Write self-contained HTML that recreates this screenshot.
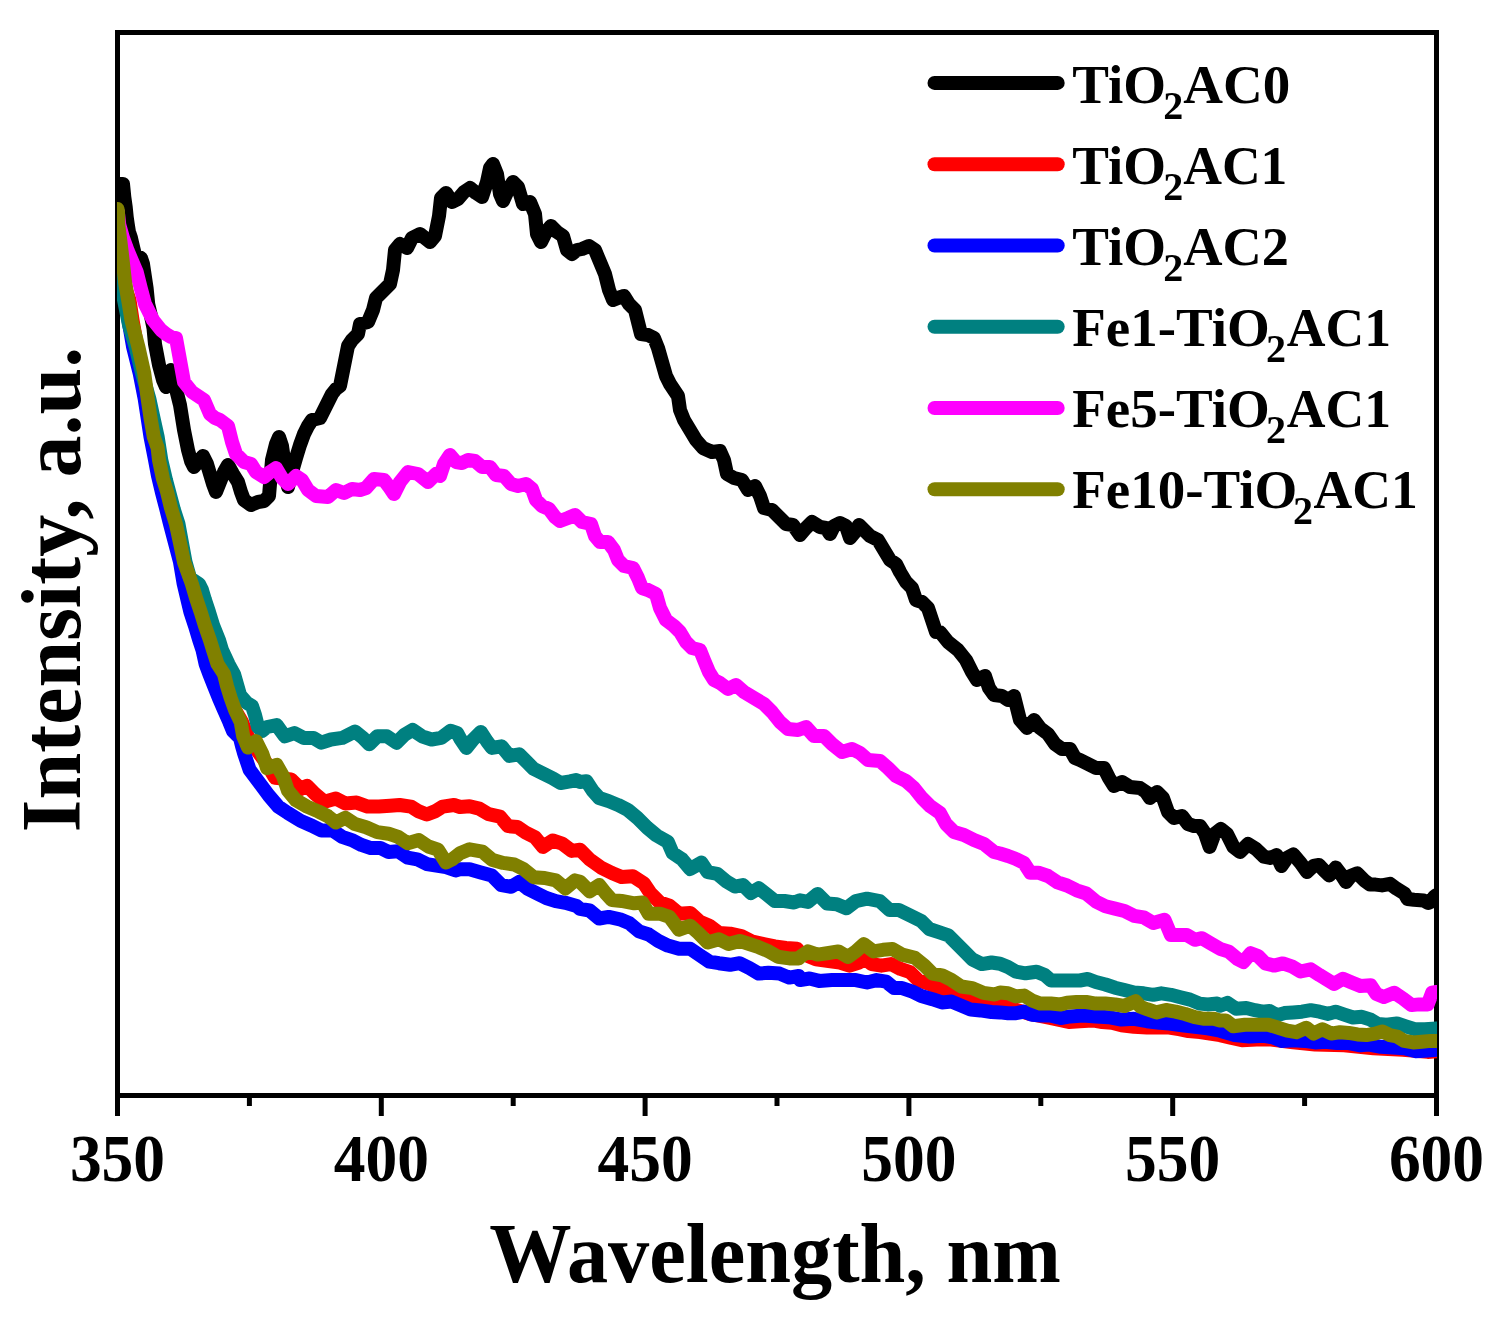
<!DOCTYPE html>
<html><head><meta charset="utf-8"><style>
html,body{margin:0;padding:0;background:#fff;}
body{width:1504px;height:1321px;overflow:hidden;}
svg{display:block;}
text{font-family:"Liberation Serif", serif;font-weight:bold;fill:#000;}
.tl{font-size:63.5px;}
.lg{font-size:55px;}
.sub{font-size:40px;}
.ax{font-size:84px;}
</style></head><body>
<svg width="1504" height="1321" viewBox="0 0 1504 1321">
<rect width="1504" height="1321" fill="#fff"/>
<rect x="117.5" y="32.5" width="1319" height="1063" fill="none" stroke="#000" stroke-width="5"/>
<g fill="none" stroke-width="14" stroke-linejoin="round" stroke-linecap="round">
<clipPath id="c"><rect x="117" y="32.5" width="1320" height="1063"/></clipPath>
<g clip-path="url(#c)">
<path d="M117.5 184.0 L123.0 184.0 L124.3 197.0 L125.7 207.0 L126.7 217.0 L127.7 224.0 L129.0 232.0 L131.0 238.0 L133.3 248.0 L135.0 255.0 L141.0 258.0 L143.0 264.0 L144.2 272.0 L146.6 288.0 L148.2 304.0 L151.0 316.0 L153.5 328.0 L155.0 344.0 L159.0 365.0 L163.0 380.0 L166.0 387.0 L169.0 378.0 L171.0 370.0 L175.0 385.0 L180.0 405.0 L184.0 430.0 L188.0 450.0 L191.0 461.0 L194.0 467.0 L198.0 462.0 L203.0 456.0 L207.0 464.0 L210.0 474.0 L213.0 484.0 L216.0 492.0 L220.0 482.0 L224.0 472.0 L228.0 465.0 L233.0 474.0 L238.0 482.0 L241.0 492.0 L244.0 500.0 L251.0 505.0 L258.0 502.0 L264.0 501.0 L269.0 496.0 L272.0 460.0 L276.0 444.0 L279.0 437.0 L282.0 446.0 L284.0 460.0 L286.0 476.0 L288.0 487.0 L292.0 472.0 L296.0 458.0 L300.0 445.0 L304.0 434.0 L308.0 426.0 L312.0 420.0 L320.0 418.0 L326.0 406.0 L332.0 394.0 L336.0 389.0 L340.0 386.0 L344.0 366.0 L348.0 346.0 L352.0 340.0 L358.0 334.0 L360.0 324.0 L368.0 322.0 L373.0 310.0 L376.0 298.0 L384.0 290.0 L390.0 284.0 L393.0 270.0 L395.0 250.0 L400.0 244.0 L407.0 248.0 L412.0 238.0 L420.0 234.0 L425.0 238.0 L430.0 242.0 L435.0 236.0 L439.0 216.0 L441.0 198.0 L446.0 193.0 L452.0 202.0 L458.0 199.0 L464.0 192.0 L470.0 188.0 L476.0 193.0 L482.0 197.0 L487.0 182.0 L490.0 168.0 L493.0 164.0 L497.0 174.0 L500.0 194.0 L503.0 201.0 L508.0 190.0 L513.0 182.0 L518.0 187.0 L523.0 204.0 L530.0 202.0 L535.0 214.0 L537.0 234.0 L541.0 242.0 L546.0 232.0 L551.0 226.0 L557.0 232.0 L563.0 236.0 L567.0 250.0 L572.0 254.0 L577.0 250.0 L582.0 249.0 L589.0 246.0 L595.0 250.0 L600.0 262.0 L605.0 274.0 L609.0 290.0 L613.0 300.0 L618.0 298.0 L624.0 296.0 L629.0 304.0 L635.0 310.0 L638.0 322.0 L641.0 334.0 L648.0 335.0 L654.0 338.0 L658.0 348.0 L662.0 362.0 L666.0 376.0 L670.0 384.0 L678.0 396.0 L680.0 410.0 L684.0 420.0 L690.0 430.0 L696.0 440.0 L703.0 448.0 L712.0 452.0 L720.0 451.0 L724.0 460.0 L727.0 474.0 L734.0 478.0 L742.0 480.0 L748.0 490.0 L755.0 486.0 L760.0 496.0 L764.0 508.0 L772.0 510.0 L780.0 518.0 L786.0 524.0 L793.0 525.0 L800.0 535.0 L806.0 528.0 L812.0 522.0 L820.0 527.0 L826.0 528.0 L830.0 534.0 L834.0 526.0 L840.0 523.0 L846.0 526.0 L850.0 538.0 L855.0 532.0 L859.0 525.0 L864.0 530.0 L870.0 536.0 L878.0 540.0 L884.0 550.0 L890.0 560.0 L896.0 564.0 L900.0 572.0 L906.0 582.0 L912.0 588.0 L916.0 600.0 L922.0 602.0 L928.0 608.0 L932.0 620.0 L936.0 632.0 L940.0 632.0 L948.0 642.0 L958.0 650.0 L966.0 660.0 L972.0 672.0 L977.0 680.0 L985.0 676.0 L989.0 688.0 L994.0 695.0 L1002.0 696.0 L1008.0 700.0 L1014.0 696.0 L1017.0 708.0 L1020.0 720.0 L1027.0 728.0 L1034.0 720.0 L1040.0 728.0 L1048.0 734.0 L1055.0 744.0 L1062.0 749.0 L1070.0 749.0 L1075.0 758.0 L1080.0 760.0 L1088.0 764.0 L1096.0 768.0 L1104.0 768.0 L1109.0 778.0 L1114.0 786.0 L1122.0 782.0 L1130.0 787.0 L1140.0 788.0 L1146.0 792.0 L1150.0 798.0 L1157.0 792.0 L1163.0 798.0 L1168.0 812.0 L1174.0 818.0 L1182.0 816.0 L1188.0 824.0 L1194.0 826.0 L1200.0 826.0 L1204.8 833.0 L1209.6 847.0 L1214.4 834.0 L1220.8 829.0 L1227.0 834.0 L1233.5 847.0 L1240.0 852.0 L1248.0 844.0 L1256.0 849.0 L1263.9 856.6 L1270.3 858.0 L1276.6 855.0 L1281.4 866.0 L1287.0 858.0 L1293.4 854.5 L1300.6 863.0 L1307.0 872.0 L1313.4 866.0 L1319.0 865.0 L1324.6 871.0 L1329.3 875.5 L1335.7 867.5 L1342.0 875.8 L1346.0 882.0 L1351.0 875.8 L1357.3 873.4 L1364.5 880.6 L1370.0 884.6 L1375.6 884.6 L1382.0 885.4 L1390.0 883.8 L1396.4 888.6 L1404.4 893.4 L1407.6 899.0 L1414.0 899.8 L1423.6 900.6 L1428.3 903.0 L1431.5 901.4 L1434.0 897.0 L1436.5 895.0" stroke="#000000"/>
<path d="M117.5 212.0 L119.0 240.0 L122.0 265.0 L126.0 290.0 L129.5 300.0 L132.7 321.0 L135.5 337.0 L140.0 365.0 L146.0 395.0 L152.0 425.0 L157.0 450.0 L162.0 475.0 L168.0 500.0 L174.0 525.0 L180.0 548.0 L186.0 570.0 L192.0 590.0 L199.0 610.0 L207.0 635.0 L215.0 660.0 L223.0 680.0 L229.0 695.0 L235.0 710.0 L242.0 722.0 L246.0 732.0 L249.6 740.0 L256.0 749.0 L265.5 761.9 L275.1 777.8 L291.1 779.4 L300.7 789.0 L307.1 785.8 L315.0 793.8 L324.6 801.8 L335.8 798.6 L345.4 803.4 L356.6 802.6 L367.7 806.6 L378.9 806.6 L390.1 805.8 L399.7 805.0 L410.9 806.6 L418.8 811.4 L426.8 814.5 L434.8 811.4 L442.8 806.6 L454.0 805.0 L460.0 807.0 L469.6 806.2 L479.2 808.6 L488.7 814.2 L499.9 816.6 L507.9 826.1 L517.5 827.0 L525.5 832.5 L535.0 837.3 L543.0 846.9 L552.6 840.5 L562.2 843.7 L571.8 850.9 L580.0 849.8 L589.6 859.4 L600.8 867.4 L611.9 873.0 L621.5 877.0 L632.7 876.2 L643.9 883.4 L650.3 893.0 L659.8 902.5 L669.4 905.7 L679.0 913.7 L690.2 912.9 L699.8 921.7 L709.3 925.7 L718.9 932.9 L730.1 933.7 L741.3 936.1 L752.5 941.7 L763.6 944.0 L774.8 946.4 L786.0 948.0 L797.2 948.8 L800.0 953.0 L808.0 956.0 L816.0 959.4 L828.7 961.0 L839.9 962.5 L849.5 965.7 L859.0 962.5 L865.4 959.4 L871.8 964.1 L881.4 965.7 L891.0 964.1 L900.5 968.9 L910.1 972.1 L918.1 980.1 L927.7 983.3 L935.6 986.5 L945.2 991.3 L954.8 993.7 L964.4 996.9 L975.5 999.2 L986.7 1000.8 L997.9 1002.4 L1000.0 1002.0 L1010.0 1008.0 L1030.0 1014.0 L1050.0 1018.0 L1068.7 1022.0 L1079.8 1021.2 L1092.6 1020.4 L1102.2 1022.0 L1111.8 1022.8 L1121.4 1025.2 L1134.0 1026.8 L1147.0 1027.6 L1159.7 1027.6 L1169.3 1027.6 L1178.8 1029.2 L1188.4 1031.0 L1200.0 1032.0 L1220.0 1035.1 L1231.7 1038.0 L1241.9 1040.2 L1256.6 1039.5 L1271.2 1039.5 L1293.1 1042.4 L1315.1 1044.6 L1344.3 1045.3 L1373.6 1048.3 L1402.9 1049.7 L1427.7 1051.9 L1436.5 1051.2" stroke="#ff0000"/>
<path d="M117.5 216.0 L118.0 250.0 L124.0 283.0 L128.6 321.0 L133.1 347.0 L139.6 373.0 L144.7 399.0 L150.5 437.0 L155.0 460.0 L158.0 476.0 L161.8 492.0 L166.0 508.0 L170.0 524.0 L175.0 543.0 L180.0 562.0 L183.7 584.0 L187.0 598.0 L190.4 612.0 L195.0 626.0 L199.2 640.0 L202.5 650.0 L205.6 664.0 L209.3 674.0 L214.0 686.0 L218.8 698.0 L224.0 710.0 L229.3 722.0 L233.0 731.0 L240.0 738.0 L242.0 746.0 L244.3 754.0 L249.6 769.8 L259.2 782.6 L268.7 795.4 L278.3 806.6 L287.9 813.0 L300.7 820.9 L311.9 825.7 L321.4 830.5 L332.6 830.5 L342.2 836.9 L351.8 840.1 L361.4 844.9 L370.9 848.1 L380.5 848.1 L388.5 852.1 L398.1 851.3 L407.7 857.7 L417.2 859.3 L426.8 864.1 L436.4 865.6 L446.0 867.2 L455.6 870.4 L460.0 869.3 L469.6 869.3 L480.8 872.5 L491.9 875.6 L501.5 885.2 L511.1 886.8 L519.1 882.0 L527.1 888.4 L536.6 893.2 L546.2 898.0 L555.8 901.2 L565.4 902.8 L576.6 906.0 L580.0 908.9 L589.6 910.5 L599.2 918.5 L608.7 916.9 L619.9 919.3 L629.5 923.3 L639.1 931.3 L648.7 934.5 L658.2 940.9 L667.8 945.6 L679.0 948.8 L690.2 948.8 L699.8 955.2 L709.3 961.6 L718.9 963.2 L730.1 964.8 L739.7 963.2 L749.3 968.0 L758.8 973.6 L768.4 972.8 L779.6 973.6 L789.2 977.6 L798.8 976.0 L800.0 980.1 L809.6 978.5 L819.1 980.9 L831.9 980.1 L844.7 980.1 L855.8 980.1 L867.0 982.5 L876.6 980.1 L886.2 981.7 L894.1 988.1 L902.1 988.1 L911.7 991.3 L921.3 996.1 L932.4 999.2 L942.0 1002.4 L951.6 1001.6 L961.2 1005.6 L970.7 1009.6 L980.3 1010.4 L991.5 1012.0 L1000.0 1012.4 L1008.0 1013.2 L1016.0 1013.2 L1024.0 1011.6 L1032.0 1014.8 L1041.5 1015.6 L1051.0 1015.6 L1060.7 1018.0 L1070.3 1016.4 L1083.0 1015.6 L1095.8 1016.4 L1108.6 1017.2 L1121.4 1019.6 L1134.0 1018.8 L1147.0 1021.2 L1159.7 1022.8 L1169.3 1023.6 L1182.0 1025.2 L1194.8 1026.8 L1207.6 1028.4 L1220.0 1030.7 L1234.6 1035.1 L1249.3 1036.5 L1263.9 1035.8 L1272.7 1037.3 L1281.4 1040.9 L1293.1 1040.2 L1304.8 1040.9 L1315.1 1042.4 L1325.3 1041.7 L1337.0 1043.1 L1348.7 1043.1 L1360.4 1045.3 L1369.2 1044.6 L1380.9 1046.8 L1392.6 1047.5 L1404.3 1048.3 L1416.0 1051.2 L1427.7 1050.4 L1436.5 1049.7" stroke="#0000ff"/>
<path d="M117.5 212.0 L118.0 240.0 L120.5 272.0 L124.0 300.0 L129.0 325.0 L135.7 347.0 L142.0 373.0 L149.4 399.0 L153.5 418.0 L157.7 437.0 L161.3 460.0 L166.0 480.0 L170.0 495.0 L174.0 510.0 L178.5 524.0 L182.0 543.0 L185.5 562.0 L190.0 578.0 L199.0 584.0 L202.0 590.0 L205.0 600.0 L209.0 612.0 L213.0 625.0 L219.0 640.0 L222.0 650.0 L228.5 664.0 L234.0 674.0 L240.0 695.0 L247.0 703.0 L252.0 706.0 L255.0 715.0 L258.0 727.0 L262.0 731.0 L267.0 727.0 L276.7 725.1 L284.7 736.3 L294.3 733.1 L303.9 737.9 L313.5 737.9 L321.4 742.7 L331.0 739.5 L342.2 737.9 L355.0 731.5 L363.0 737.9 L369.3 744.3 L377.3 736.3 L386.9 736.3 L396.5 742.7 L404.5 734.7 L412.5 729.9 L422.0 736.3 L431.6 739.5 L441.2 737.9 L450.8 730.7 L457.2 733.1 L460.0 738.3 L466.4 747.9 L472.8 739.9 L480.8 731.9 L487.1 741.5 L491.9 747.9 L501.5 746.3 L509.5 755.9 L519.1 754.3 L527.1 762.3 L533.5 768.7 L543.0 773.5 L552.6 778.2 L560.6 783.0 L570.2 781.4 L576.0 780.0 L580.0 782.0 L586.4 781.2 L592.8 790.8 L599.2 798.0 L608.7 801.1 L618.3 805.1 L627.9 810.0 L637.5 818.0 L647.0 827.5 L656.6 835.5 L667.8 841.9 L672.6 853.0 L682.2 859.4 L690.2 869.0 L701.4 862.6 L707.7 872.2 L717.3 873.8 L726.9 881.8 L734.9 886.6 L742.9 885.0 L750.9 893.0 L758.8 888.2 L766.8 894.5 L774.8 901.0 L784.4 901.0 L794.0 902.5 L800.0 900.3 L808.0 901.9 L817.6 893.9 L827.1 903.5 L836.7 904.3 L846.3 908.3 L855.8 901.1 L867.0 898.7 L879.8 901.1 L889.4 909.9 L898.9 909.9 L911.7 916.3 L921.3 921.1 L929.3 929.0 L938.8 932.2 L948.4 935.4 L956.4 943.4 L964.4 951.4 L972.3 959.4 L981.9 964.1 L991.5 962.5 L1000.0 963.7 L1008.0 967.0 L1016.0 971.7 L1025.5 973.3 L1036.7 971.7 L1044.7 975.0 L1051.0 980.5 L1060.7 980.5 L1070.3 980.5 L1079.8 980.5 L1087.8 979.0 L1095.8 982.0 L1105.4 984.5 L1115.0 987.7 L1124.5 990.0 L1134.0 992.5 L1143.7 993.3 L1153.3 994.8 L1161.3 993.3 L1170.9 994.8 L1180.4 997.2 L1190.0 999.6 L1199.6 1003.6 L1207.6 1004.4 L1217.2 1003.6 L1220.0 1005.8 L1227.3 1002.9 L1236.1 1008.8 L1246.3 1008.0 L1255.1 1010.2 L1262.4 1011.7 L1269.7 1011.0 L1277.1 1015.3 L1284.4 1013.1 L1293.1 1012.4 L1301.9 1011.7 L1310.7 1010.2 L1319.5 1011.7 L1328.2 1013.9 L1335.6 1011.7 L1344.3 1014.6 L1353.1 1017.5 L1361.9 1016.8 L1370.7 1019.7 L1378.0 1024.1 L1386.8 1024.8 L1397.0 1023.4 L1405.8 1026.3 L1414.6 1029.2 L1424.8 1029.2 L1436.5 1028.5" stroke="#008080"/>
<path d="M117.5 211.0 L118.2 215.0 L119.3 225.0 L123.0 238.0 L128.0 251.6 L136.7 272.0 L140.7 288.0 L145.0 304.0 L153.0 320.0 L161.0 330.0 L166.0 334.0 L171.0 337.0 L176.0 338.0 L180.0 360.0 L184.0 382.0 L192.0 392.0 L198.0 396.0 L204.0 400.0 L210.0 414.0 L215.0 418.0 L220.0 420.0 L228.0 426.0 L232.0 442.0 L236.0 454.0 L244.0 462.0 L251.0 464.0 L256.0 472.0 L264.0 477.0 L270.0 472.0 L276.0 468.0 L282.0 478.0 L288.0 484.0 L296.0 476.0 L302.0 480.0 L308.0 490.0 L316.0 496.0 L328.0 497.0 L336.0 490.0 L344.0 493.0 L352.0 489.0 L360.0 490.0 L366.0 488.0 L374.0 479.0 L384.0 480.0 L390.0 488.0 L394.0 494.0 L400.0 482.0 L408.0 472.0 L418.0 474.0 L428.0 482.0 L436.0 474.0 L440.0 476.0 L444.0 464.0 L450.0 455.0 L456.0 462.0 L462.0 463.0 L468.0 460.0 L475.0 461.0 L482.0 467.0 L490.0 467.0 L496.0 475.0 L504.0 476.0 L511.0 484.0 L518.0 486.0 L526.0 484.0 L532.0 489.0 L536.0 500.0 L542.0 506.0 L549.0 509.0 L555.0 517.0 L560.0 521.0 L568.0 518.0 L575.0 515.0 L582.0 522.0 L591.0 524.0 L595.0 536.0 L600.0 542.0 L608.0 542.0 L614.0 550.0 L618.0 560.0 L624.0 566.0 L633.0 568.0 L638.0 578.0 L642.0 588.0 L648.0 590.0 L656.0 594.0 L660.0 608.0 L666.0 620.0 L674.0 626.0 L680.0 632.0 L686.0 642.0 L692.0 648.0 L700.0 650.0 L704.0 660.0 L709.0 672.0 L714.0 680.0 L720.0 683.0 L728.0 689.0 L736.0 685.0 L744.0 692.0 L754.0 698.0 L764.0 704.0 L772.0 712.0 L780.0 722.0 L788.0 729.0 L798.0 730.0 L806.0 727.0 L814.0 736.0 L824.0 736.0 L832.0 744.0 L842.0 752.0 L852.0 749.0 L860.0 753.0 L868.0 760.0 L880.0 761.0 L888.0 768.0 L896.0 776.0 L906.0 781.0 L914.0 788.0 L922.0 798.0 L930.0 806.0 L940.0 813.0 L946.0 824.0 L954.0 832.0 L964.0 835.0 L974.0 840.0 L984.0 844.0 L994.0 852.0 L1000.0 853.5 L1008.0 856.0 L1016.0 859.0 L1024.0 863.0 L1030.3 872.7 L1038.3 872.7 L1048.0 876.0 L1057.5 882.3 L1067.0 885.5 L1076.6 890.3 L1086.2 893.5 L1095.8 901.4 L1105.4 906.2 L1115.0 908.6 L1124.5 911.0 L1134.0 915.8 L1143.7 917.4 L1153.3 923.0 L1164.5 919.8 L1170.9 935.0 L1178.8 935.0 L1186.8 935.0 L1194.8 939.8 L1202.0 938.2 L1210.0 943.0 L1220.0 948.8 L1228.8 951.7 L1237.6 959.0 L1243.4 962.0 L1250.7 953.2 L1258.0 956.0 L1265.3 963.4 L1274.1 965.6 L1282.9 963.4 L1291.7 966.3 L1300.5 971.5 L1310.7 969.3 L1319.5 975.1 L1326.8 979.5 L1334.1 983.9 L1342.9 978.8 L1351.7 982.4 L1360.4 986.0 L1370.7 985.3 L1376.5 994.1 L1383.8 997.0 L1394.1 992.7 L1402.9 998.5 L1411.6 1005.1 L1419.0 1004.4 L1427.7 1004.4 L1432.1 992.7 L1436.5 992.0" stroke="#ff00ff"/>
<path d="M117.5 209.0 L118.0 212.0 L118.3 225.0 L120.0 238.0 L121.7 252.0 L125.2 283.0 L128.5 302.0 L131.6 321.0 L138.4 347.0 L144.2 373.0 L147.7 399.0 L150.5 418.0 L153.8 437.0 L157.3 447.0 L157.5 447.0 L159.0 460.0 L163.0 479.0 L167.1 492.0 L171.0 508.0 L175.9 524.0 L180.0 543.0 L184.0 562.0 L188.0 573.0 L191.9 584.0 L196.0 598.0 L200.7 612.0 L205.0 626.0 L209.9 640.0 L213.0 650.0 L217.5 664.0 L224.0 674.0 L227.0 686.0 L230.7 698.0 L235.0 710.0 L240.7 722.0 L243.2 736.3 L248.0 747.5 L256.0 741.1 L262.4 753.9 L267.1 768.2 L276.7 765.0 L283.1 776.2 L287.9 790.6 L295.9 800.2 L307.1 806.6 L318.2 811.4 L327.8 816.1 L335.8 822.5 L345.4 817.7 L355.0 824.1 L366.1 827.3 L377.3 832.1 L388.5 833.7 L398.1 836.9 L407.7 843.3 L418.8 840.1 L428.4 846.5 L438.0 849.7 L446.0 862.5 L452.4 859.3 L460.0 853.3 L469.6 849.3 L482.4 851.7 L491.9 859.7 L503.1 862.9 L514.3 864.5 L523.9 869.3 L533.5 877.2 L544.6 878.0 L555.8 880.4 L565.4 888.4 L575.0 880.4 L580.0 881.8 L589.6 891.4 L599.2 885.0 L605.5 893.0 L611.9 900.1 L621.5 900.9 L634.3 903.3 L642.3 902.5 L648.7 913.7 L659.8 913.7 L669.4 916.9 L679.0 929.7 L690.2 925.7 L698.2 932.9 L707.7 942.5 L718.9 939.3 L728.5 944.0 L739.7 940.9 L749.3 944.0 L758.8 947.2 L768.4 951.2 L778.0 956.8 L789.2 958.4 L798.8 958.4 L800.0 957.0 L808.0 951.4 L817.6 954.6 L828.7 953.0 L838.3 951.4 L847.9 957.0 L855.8 951.4 L863.8 944.2 L873.4 951.4 L883.0 949.8 L892.5 949.0 L902.1 954.6 L914.9 957.8 L924.5 965.7 L932.4 973.7 L942.0 975.3 L951.6 980.1 L961.2 986.5 L972.3 988.1 L983.5 992.9 L994.7 994.5 L1000.0 992.5 L1008.0 993.3 L1016.0 996.4 L1024.0 995.6 L1032.0 1000.4 L1040.0 1003.6 L1051.0 1003.6 L1060.7 1004.4 L1067.0 1002.8 L1076.6 1002.0 L1086.2 1002.0 L1095.8 1003.6 L1105.4 1003.6 L1115.0 1004.4 L1124.5 1006.0 L1135.7 1001.2 L1140.5 1006.8 L1147.0 1009.2 L1156.5 1012.4 L1166.0 1010.0 L1175.6 1011.6 L1185.2 1014.0 L1194.8 1017.2 L1204.4 1018.8 L1214.0 1018.8 L1220.0 1020.5 L1225.9 1020.5 L1233.2 1026.3 L1244.9 1024.8 L1256.6 1024.8 L1268.3 1024.8 L1278.5 1027.8 L1287.3 1030.7 L1296.1 1032.2 L1306.3 1027.8 L1313.6 1033.6 L1322.4 1029.2 L1331.2 1033.6 L1340.0 1032.2 L1348.7 1032.9 L1357.5 1034.4 L1366.3 1035.1 L1375.1 1033.6 L1382.4 1031.4 L1389.7 1035.1 L1397.0 1036.5 L1404.3 1040.9 L1413.1 1042.4 L1421.9 1041.7 L1430.6 1040.9 L1436.5 1040.9" stroke="#808000"/>
</g>
</g>
<g stroke="#000" stroke-width="5">
<line x1="117.50" y1="1095.5" x2="117.50" y2="1116"/><line x1="249.40" y1="1095.5" x2="249.40" y2="1106"/><line x1="381.30" y1="1095.5" x2="381.30" y2="1116"/><line x1="513.20" y1="1095.5" x2="513.20" y2="1106"/><line x1="645.10" y1="1095.5" x2="645.10" y2="1116"/><line x1="777.00" y1="1095.5" x2="777.00" y2="1106"/><line x1="908.90" y1="1095.5" x2="908.90" y2="1116"/><line x1="1040.80" y1="1095.5" x2="1040.80" y2="1106"/><line x1="1172.70" y1="1095.5" x2="1172.70" y2="1116"/><line x1="1304.60" y1="1095.5" x2="1304.60" y2="1106"/><line x1="1436.50" y1="1095.5" x2="1436.50" y2="1116"/>
</g>
<g class="tl">
<text transform="translate(117.50,1181.2) scale(1,1.08)" text-anchor="middle">350</text><text transform="translate(381.30,1181.2) scale(1,1.08)" text-anchor="middle">400</text><text transform="translate(645.10,1181.2) scale(1,1.08)" text-anchor="middle">450</text><text transform="translate(908.90,1181.2) scale(1,1.08)" text-anchor="middle">500</text><text transform="translate(1172.70,1181.2) scale(1,1.08)" text-anchor="middle">550</text><text transform="translate(1436.50,1181.2) scale(1,1.08)" text-anchor="middle">600</text>
</g>
<line x1="934.5" y1="82.9" x2="1057.7" y2="82.9" stroke="#000000" stroke-width="14" stroke-linecap="round"/><text x="1072.2" y="102.9" class="lg">TiO</text><text x="1163.3" y="118.9" class="sub">2</text><text transform="translate(1183.2,102.9) scale(1.0,1)" class="lg">AC0</text><line x1="934.5" y1="164.2" x2="1057.7" y2="164.2" stroke="#ff0000" stroke-width="14" stroke-linecap="round"/><text x="1072.2" y="183.9" class="lg">TiO</text><text x="1163.3" y="199.9" class="sub">2</text><text transform="translate(1183.2,183.9) scale(0.975,1)" class="lg">AC1</text><line x1="934.5" y1="245.5" x2="1057.7" y2="245.5" stroke="#0000ff" stroke-width="14" stroke-linecap="round"/><text x="1072.2" y="264.9" class="lg">TiO</text><text x="1163.3" y="280.9" class="sub">2</text><text transform="translate(1183.2,264.9) scale(0.988,1)" class="lg">AC2</text><line x1="934.5" y1="326.7" x2="1057.7" y2="326.7" stroke="#008080" stroke-width="14" stroke-linecap="round"/><text x="1072.2" y="345.9" class="lg">Fe1-TiO</text><text x="1266.1" y="361.9" class="sub">2</text><text transform="translate(1286.8,345.9) scale(0.975,1)" class="lg">AC1</text><line x1="934.5" y1="408.0" x2="1057.7" y2="408.0" stroke="#ff00ff" stroke-width="14" stroke-linecap="round"/><text x="1072.2" y="426.9" class="lg">Fe5-TiO</text><text x="1266.1" y="442.9" class="sub">2</text><text transform="translate(1286.8,426.9) scale(0.975,1)" class="lg">AC1</text><line x1="934.5" y1="489.3" x2="1057.7" y2="489.3" stroke="#808000" stroke-width="14" stroke-linecap="round"/><text x="1072.2" y="507.9" class="lg">Fe10-TiO</text><text x="1292.9" y="523.9" class="sub">2</text><text transform="translate(1313.6,507.9) scale(0.975,1)" class="lg">AC1</text>
<text class="ax" transform="translate(775,1281.5) scale(0.98,1)" text-anchor="middle">Wavelength, nm</text>
<text class="ax" transform="translate(79.5,589.5) rotate(-90)" text-anchor="middle">Intensity, a.u.</text>
</svg>
</body></html>
